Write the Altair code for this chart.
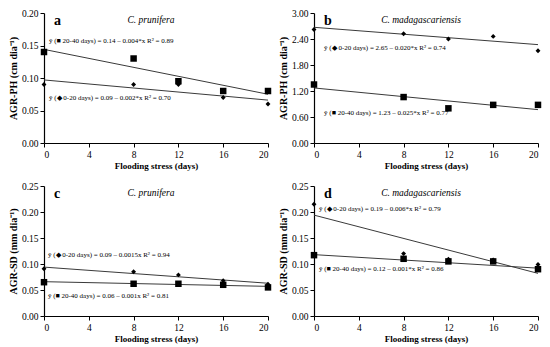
import altair as alt
import pandas as pd

days = [0, 8, 12, 16, 20]
fit_x = [0, 20]

# Panel a: AGR-PH, C. prunifera
a_diamond = [0.090, 0.090, 0.090, 0.070, 0.060]
a_square = [0.140, 0.130, 0.095, 0.080, 0.080]
a_diamond_fit = [0.097, 0.066]
a_square_fit = [0.144, 0.075]
a_eqs = ["ŷ (■ 20-40 days) = 0.14 – 0.004*x  R² = 0.89",
         "ŷ (◆ 0-20 days) = 0.09 – 0.002*x  R² = 0.70"]
a_eq_y = [0.157, 0.069]

# Panel b: AGR-PH, C. madagascariensis
b_diamond = [2.62, 2.52, 2.40, 2.46, 2.13]
b_square = [1.35, 1.06, 0.80, 0.88, 0.88]
b_diamond_fit = [2.67, 2.27]
b_square_fit = [1.27, 0.77]
b_eqs = ["ŷ (◆ 0-20 days) = 2.65 – 0.020*x  R² = 0.74",
         "ŷ (■ 20-40 days) = 1.23 – 0.025*x  R² = 0.77"]
b_eq_y = [2.20, 0.69]

# Panel c: AGR-SD, C. prunifera
c_diamond = [0.091, 0.085, 0.079, 0.068, 0.061]
c_square = [0.065, 0.062, 0.062, 0.060, 0.055]
c_diamond_fit = [0.094, 0.063]
c_square_fit = [0.066, 0.057]
c_eqs = ["ŷ (◆ 0-20 days) = 0.09 – 0.0015x  R² = 0.94",
         "ŷ (■ 20-40 days) = 0.06 – 0.001x  R² = 0.81"]
c_eq_y = [0.118, 0.038]

# Panel d: AGR-SD, C. madagascariensis
d_diamond = [0.215, 0.120, 0.109, 0.108, 0.099]
d_square = [0.117, 0.110, 0.105, 0.105, 0.090]
d_diamond_fit = [0.194, 0.082]
d_square_fit = [0.118, 0.092]
d_eqs = ["ŷ (◆ 0-20 days) = 0.19 – 0.006*x  R² = 0.79",
         "ŷ (■ 20-40 days) = 0.12 – 0.001*x  R² = 0.86"]
d_eq_y = [0.206, 0.090]

x_ticks = [0, 4, 8, 12, 16, 20]
FONT = "Liberation Serif"
W, H = 224, 130


def panel(diamond, square, dfit, sfit, eqs, eq_y, eq_x, ymax, ystep, ytitle, letter, species):
    n = int(round(ymax / ystep))
    yvals = [round(i * ystep, 4) for i in range(n + 1)]
    X = alt.X("x:Q", scale=alt.Scale(domain=[0, 20], nice=False),
              axis=alt.Axis(values=x_ticks, title="Flooding stress (days)"))
    Y = alt.Y("y:Q", scale=alt.Scale(domain=[0, ymax], nice=False),
              axis=alt.Axis(values=yvals, format=".2f", title=ytitle))
    pts = pd.DataFrame({"x": days * 2, "y": diamond + square,
                        "s": ["d"] * len(days) + ["s"] * len(days)})
    points = alt.Chart(pts).mark_point(filled=True, opacity=1, color="black").encode(
        x=X, y=Y,
        shape=alt.Shape("s:N", scale=alt.Scale(domain=["d", "s"], range=["diamond", "square"]), legend=None),
        size=alt.Size("s:N", scale=alt.Scale(domain=["d", "s"], range=[24, 42]), legend=None),
    )
    fits = pd.DataFrame({"x": fit_x * 2, "y": dfit + sfit, "g": ["d", "d", "s", "s"]})
    lines = alt.Chart(fits).mark_line(color="#3a3a3a", strokeWidth=1).encode(
        x=X, y=Y, detail="g:N")
    eq = pd.DataFrame({"x": [eq_x, eq_x], "y": eq_y, "t": eqs})
    eqt = alt.Chart(eq).mark_text(align="left", baseline="middle", font=FONT,
                                  fontSize=7, color="black").encode(x=X, y=Y, text="t:N")
    lab = pd.DataFrame({"t": [letter]})
    let = alt.Chart(lab).mark_text(align="left", baseline="top", font=FONT, fontSize=14,
                                   fontWeight="bold", color="black").encode(
        text="t:N", x=alt.value(10), y=alt.value(1))
    sp = pd.DataFrame({"t": [species]})
    spt = alt.Chart(sp).mark_text(align="center", baseline="top", font=FONT, fontSize=9.5,
                                  fontStyle="italic", color="black").encode(
        text="t:N", x=alt.value(107), y=alt.value(2))
    return alt.layer(lines, points, eqt, let, spt).properties(width=W, height=H)


pa = panel(a_diamond, a_square, a_diamond_fit, a_square_fit, a_eqs, a_eq_y, 0.45,
           0.20, 0.05, "AGR-PH (cm dia⁻¹)", "a", "C. prunifera")
pb = panel(b_diamond, b_square, b_diamond_fit, b_square_fit, b_eqs, b_eq_y, 0.9,
           3.00, 0.60, "AGR-PH (cm dia⁻¹)", "b", "C. madagascariensis")
pc = panel(c_diamond, c_square, c_diamond_fit, c_square_fit, c_eqs, c_eq_y, 0.35,
           0.25, 0.05, "AGR-SD (mm dia⁻¹)", "c", "C. prunifera")
pd_ = panel(d_diamond, d_square, d_diamond_fit, d_square_fit, d_eqs, d_eq_y, 0.45,
            0.25, 0.05, "AGR-SD (mm dia⁻¹)", "d", "C. madagascariensis")

chart = alt.vconcat(
    alt.hconcat(pa, pb, spacing=6),
    alt.hconcat(pc, pd_, spacing=6),
    spacing=10,
).properties(padding=0).configure_view(stroke=None).configure_axis(
    grid=False, domainColor="black", tickColor="black", labelColor="black",
    titleColor="black", labelFont=FONT, titleFont=FONT, labelFontSize=9.5,
    titleFontWeight="bold", domainWidth=1.2, tickSize=4, labelPadding=2,
).configure_axisX(titleFontSize=9, titlePadding=3).configure_axisY(titleFontSize=10, titlePadding=3)

chart.save("out.html", embed_options={"renderer": "svg", "actions": False})
